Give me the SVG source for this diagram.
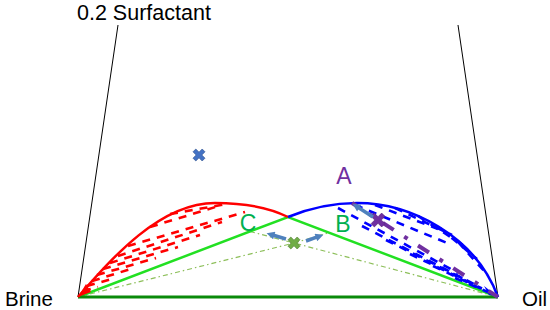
<svg xmlns="http://www.w3.org/2000/svg" xmlns:xlink="http://www.w3.org/1999/xlink" width="550" height="310" viewBox="0 0 550 310">
<style>
.lbl{font-family:"Liberation Sans",Arial,sans-serif;fill:#000}
.ax{stroke:#000;stroke-width:1;fill:none}
.tri{stroke:#22e022;stroke-width:2.5;fill:none}
.base{stroke:#0a8a0a;stroke-width:3;fill:none}
.dd{stroke:#8dbf5a;stroke-width:1.2;fill:none;stroke-dasharray:5 3 1.5 3}
.redc{stroke:#ff0000;stroke-width:2.5;fill:none}
.bluec{stroke:#0000ff;stroke-width:2.5;fill:none}
.redt{stroke:#ff0000;stroke-width:2.6;fill:none;stroke-dasharray:8 7}
.bluet{stroke:#0000ff;stroke-width:2.6;fill:none;stroke-dasharray:8 7}
.purp{stroke:#7030a0;stroke-width:4;fill:none;stroke-dasharray:13 12.5 4 12.4;stroke-dashoffset:5.3}
.arr{stroke:#4f81bd;stroke-width:3.5;fill:none;marker-end:url(#ah)}
.xb{fill:#4472c4;stroke:#2f528f;stroke-width:0.6}
.xg{fill:#70ad47;stroke:#507e32;stroke-width:0.6}
.xp{fill:#7030a0;stroke:#5a2682;stroke-width:0.6}
.ph{font-family:"Liberation Sans",Arial,sans-serif;font-size:23px;text-anchor:middle}
</style>
<defs>
<path id="xm" d="M-2,-6.5 H2 V-2 H6.5 V2 H2 V6.5 H-2 V2 H-6.5 V-2 H-2 Z"/>
<marker id="ah" viewBox="0 0 10 10" refX="2" refY="5" markerUnits="userSpaceOnUse" markerWidth="9" markerHeight="8" orient="auto">
<path d="M0,0 L10,5 L0,10 Z" fill="#4f81bd"/>
</marker>
</defs>

<g id="axes">
<line class="ax" x1="78" y1="297" x2="118" y2="25"/>
<line class="ax" x1="498" y1="297" x2="458" y2="25"/>
</g>

<g id="connectors">
<polyline class="dd" points="78,297 294,243 498,297"/>
<line class="dd" x1="250" y1="231.5" x2="294" y2="243"/>
<line class="dd" x1="294" y1="243" x2="328" y2="233"/>
<polyline class="tri" points="78,297 288,217 498,297"/>
<line class="base" x1="78" y1="297" x2="498" y2="297"/>
</g>

<g id="red-binodal">
<path class="redc" d="M78,297 C112,258 160,203 215,203 C245,203 268,207 288,217"/>
<polygon points="78,297 86,284 91,292" fill="#ff0000"/>
<line class="redt" x1="170" y1="214" x2="224" y2="204.5"/>
<line class="redt" x1="150" y1="227" x2="222" y2="205"/>
<line class="redt" x1="128" y1="246" x2="245" y2="212"/>
<line class="redt" x1="118" y1="256" x2="222" y2="222"/>
<line class="redt" x1="110" y1="263" x2="200" y2="235"/>
<line class="redt" x1="103" y1="269" x2="178" y2="247"/>
<line class="redt" x1="97" y1="275" x2="156" y2="258"/>
<line class="redt" x1="92" y1="281" x2="134" y2="268"/>
<line class="redt" x1="87" y1="286" x2="115" y2="278"/>
<line class="redt" x1="83" y1="291" x2="98" y2="287"/>
</g>

<g id="blue-binodal">
<path class="bluec" d="M288,217 C310,208 335,203 357,203 C410,203 475,235 498,297"/>
<polygon points="484,286 497,296 489,295" fill="#0000ff"/>
<line class="bluet" x1="375" y1="205" x2="438" y2="229"/>
<line class="bluet" x1="395" y1="208" x2="452" y2="235"/>
<line class="bluet" x1="418" y1="216" x2="466" y2="247"/>
<line class="bluet" x1="440" y1="228" x2="477" y2="259"/>
<line class="bluet" x1="458" y1="242" x2="485" y2="272"/>
<line class="bluet" x1="355" y1="205" x2="452" y2="245"/>
<line class="bluet" x1="338" y1="208" x2="458" y2="273"/>
<line class="bluet" x1="362" y1="226" x2="468" y2="281"/>
<line class="bluet" x1="386" y1="240" x2="476" y2="285"/>
<line class="bluet" x1="410" y1="254" x2="482" y2="288.5"/>
<line class="bluet" x1="433" y1="266" x2="487" y2="291.5"/>
<line class="bluet" x1="455" y1="278" x2="490" y2="293"/>
</g>

<g id="tie-line-A">
<line class="purp" x1="352" y1="203" x2="498" y2="297"/>
</g>

<g id="point-blue"><use xlink:href="#xm" class="xb" transform="translate(199,155) rotate(45)"/></g>
<g id="point-A"><use xlink:href="#xm" class="xp" transform="translate(378,220) rotate(45) scale(1.15)"/></g>
<g id="point-green"><use xlink:href="#xm" class="xg" transform="translate(294,243) rotate(45)"/></g>

<g id="arrows">
<line class="arr" x1="286" y1="239" x2="272.7" y2="235"/>
<line class="arr" x1="306" y1="241" x2="317.4" y2="236.9"/>
<line class="arr" x1="373" y1="217" x2="357.9" y2="207.3"/>
</g>

<g id="labels">
<text class="lbl" x="77" y="19.5" font-size="21.5">0.2 Surfactant</text>
<text class="lbl" x="5" y="306" font-size="20.5">Brine</text>
<text class="lbl" x="522" y="306" font-size="20.5">Oil</text>
<text class="ph" x="344" y="184" fill="#7030a0">A</text>
<text class="ph" x="343" y="232" fill="#00b050">B</text>
<text class="ph" x="248" y="231" fill="#00b050">C</text>
</g>
</svg>
